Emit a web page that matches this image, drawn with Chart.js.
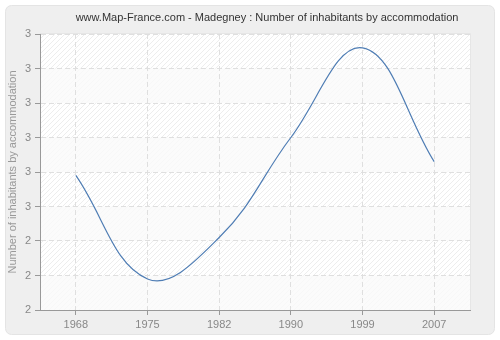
<!DOCTYPE html>
<html>
<head>
<meta charset="utf-8">
<script src="https://cdn.jsdelivr.net/npm/chart.js@4.4.0/dist/chart.umd.min.js"></script>
<style>
  html, body { margin: 0; padding: 0; background: #fff; }
  #wrap { width: 500px; height: 340px; }
</style>
</head>
<body>
<div id="wrap"><canvas id="chart" width="500" height="340"></canvas></div>
<script>
// data
const years = ["1968", "1975", "1982", "1990", "1999", "2007"];
const inhabitantsPerHome = [2.59, 2.29, 2.41, 2.70, 2.96, 2.63];
const yTickLabels = ["2", "2", "2", "3", "3", "3", "3", "3", "3"];
const chartTitle = "www.Map-France.com - Madegney : Number of inhabitants by accommodation";
const yAxisTitle = "Number of inhabitants by accommodation";

// grey rounded frame, hatched plot area, alternating bands
const backgroundPlugin = {
  id: "background",
  beforeDraw(chart) {
    const ctx = chart.ctx;
    const area = chart.chartArea;
    const yScale = chart.scales.y;
    ctx.save();
    ctx.fillStyle = "#fff";
    ctx.fillRect(0, 0, chart.width, chart.height);
    ctx.beginPath();
    ctx.roundRect(5.5, 5.5, 489, 329, 6);
    ctx.fillStyle = "#efefef";
    ctx.fill();
    ctx.strokeStyle = "#e4e4e4";
    ctx.lineWidth = 1;
    ctx.stroke();

    ctx.fillStyle = "#ffffff";
    ctx.fillRect(area.left, area.top, area.right - area.left, area.bottom - area.top);

    ctx.beginPath();
    ctx.rect(area.left, area.top, area.right - area.left, area.bottom - area.top);
    ctx.clip();
    ctx.strokeStyle = "#ededed";
    ctx.lineWidth = 1;
    const h = area.bottom - area.top;
    for (let x = area.left - h; x < area.right; x += 5) {
      ctx.beginPath();
      ctx.moveTo(x, area.bottom);
      ctx.lineTo(x + h, area.top);
      ctx.stroke();
    }
    // every other band a bit flatter
    const ticks = yScale.ticks;
    for (let i = 0; i < ticks.length - 1; i++) {
      if ((ticks.length - 2 - i) % 2 === 1) {
        const y1 = yScale.getPixelForValue(ticks[i].value);
        const y2 = yScale.getPixelForValue(ticks[i + 1].value);
        ctx.fillStyle = "rgba(249,249,249,0.75)";
        ctx.fillRect(area.left, y2, area.right - area.left, y1 - y2);
      }
    }
    ctx.restore();

    ctx.save();
    ctx.strokeStyle = "#e6e6e6";
    ctx.beginPath();
    ctx.moveTo(area.left, area.top - 0.5);
    ctx.lineTo(area.right + 0.5, area.top - 0.5);
    ctx.lineTo(area.right + 0.5, area.bottom);
    ctx.stroke();
    ctx.restore();
  },
  afterDraw(chart) {
    const ctx = chart.ctx;
    ctx.save();
    ctx.font = "11px 'Liberation Sans', Arial, sans-serif";
    ctx.fillStyle = "#333";
    ctx.textAlign = "center";
    ctx.textBaseline = "middle";
    ctx.fillText(chartTitle, 267, 18);
    ctx.restore();
  }
};

const ctx = document.getElementById("chart").getContext("2d");
new Chart(ctx, {
  type: "line",
  data: {
    labels: years,
    datasets: [
      {
        label: yAxisTitle,
        data: inhabitantsPerHome,
        borderColor: "#4f7db4",
        borderWidth: 1.2,
        pointRadius: 0,
        tension: 0.4,
        fill: false,
      },
    ],
  },
  options: {
    responsive: false,
    animation: false,
    devicePixelRatio: 1,
    layout: { padding: { top: 34, right: 30, left: 0, bottom: 0 } },
    plugins: {
      legend: { display: false },
      tooltip: { enabled: false },
      title: { display: false },
    },
    scales: {
      x: {
        type: "category",
        offset: true,
        afterFit(scale) { scale.height = 30; },
        grid: {
          offset: false,
          color: "#dfdfdf",
          lineWidth: 1,
          tickColor: "#999",
          tickLength: 5,
          tickBorderDash: [],
        },
        border: { color: "#999", width: 1, dash: [5, 3] },
        ticks: {
          color: "#888",
          font: { family: "'Liberation Sans', Arial, sans-serif", size: 11 },
          padding: 3,
          maxRotation: 0,
        },
      },
      y: {
        min: 2.2,
        max: 3.0,
        afterFit(scale) { scale.width = 40; },
        grid: {
          color: "#dfdfdf",
          lineWidth: 1,
          tickColor: "#999",
          tickLength: 5,
          tickBorderDash: [],
        },
        border: { color: "#999", width: 1, dash: [5, 3] },
        ticks: {
          stepSize: 0.1,
          color: "#888",
          font: { family: "'Liberation Sans', Arial, sans-serif", size: 11 },
          padding: 4,
          callback: (value, index) => yTickLabels[index],
        },
        title: {
          display: true,
          text: yAxisTitle,
          color: "#999",
          font: { family: "'Liberation Sans', Arial, sans-serif", size: 11 },
          padding: { top: 6, bottom: 0 },
        },
      },
    },
  },
  plugins: [backgroundPlugin],
});
</script>
</body>
</html>
